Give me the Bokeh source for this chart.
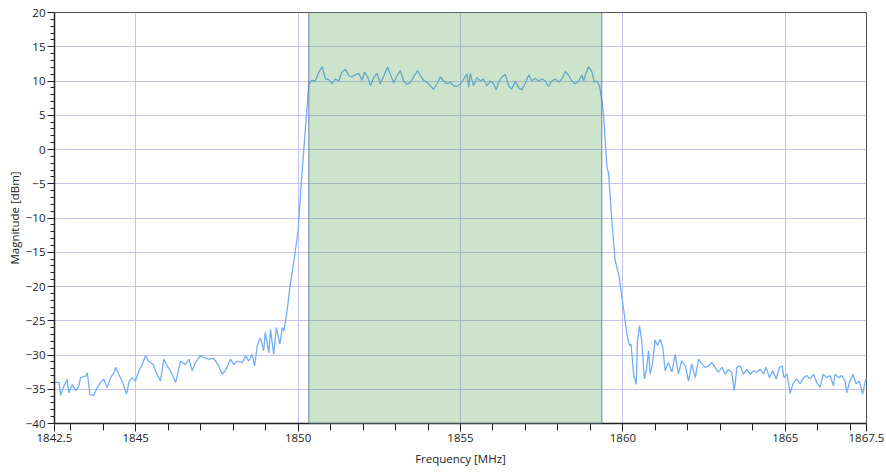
from bokeh.plotting import figure
from bokeh.models import FixedTicker, BoxAnnotation, Range1d
from bokeh.embed import file_html
from bokeh.resources import INLINE

# ---- data ----
freq_mhz = [
    1842.50, 1842.64, 1842.69, 1842.79, 1842.89, 1842.94, 1843.05, 1843.15, 1843.25, 1843.30,
    1843.46, 1843.51, 1843.59, 1843.71, 1843.81, 1843.92, 1844.02, 1844.12, 1844.23, 1844.33,
    1844.38, 1844.48, 1844.58, 1844.72, 1844.79, 1844.89, 1844.99, 1845.10, 1845.20, 1845.30,
    1845.40, 1845.54, 1845.61, 1845.76, 1845.87, 1845.97, 1846.07, 1846.23, 1846.38, 1846.53,
    1846.64, 1846.74, 1846.84, 1846.99, 1847.10, 1847.25, 1847.40, 1847.56, 1847.66, 1847.76,
    1847.92, 1848.02, 1848.12, 1848.28, 1848.38, 1848.48, 1848.58, 1848.66, 1848.74, 1848.84,
    1848.94, 1848.99, 1849.10, 1849.15, 1849.25, 1849.33, 1849.44, 1849.51, 1849.56, 1849.66,
    1849.76, 1849.87, 1850.00, 1850.09, 1850.21,
    1850.33, 1850.43, 1850.53, 1850.64, 1850.74, 1850.84, 1850.94, 1851.05, 1851.15, 1851.25,
    1851.35, 1851.46, 1851.56, 1851.66, 1851.76, 1851.87, 1851.97, 1852.04, 1852.14, 1852.23,
    1852.33, 1852.43, 1852.53, 1852.66, 1852.76, 1852.84, 1852.94, 1853.05, 1853.15, 1853.25,
    1853.35, 1853.46, 1853.58, 1853.68, 1853.76, 1853.87, 1853.97, 1854.07, 1854.17, 1854.28,
    1854.38, 1854.48, 1854.58, 1854.69, 1854.79, 1854.89, 1855.01, 1855.10, 1855.20, 1855.25,
    1855.30, 1855.40, 1855.51, 1855.61, 1855.71, 1855.81, 1855.92, 1856.02, 1856.10, 1856.17,
    1856.28, 1856.38, 1856.48, 1856.58, 1856.69, 1856.79, 1856.89, 1856.99, 1857.10, 1857.20,
    1857.30, 1857.40, 1857.51, 1857.61, 1857.71, 1857.81, 1857.92, 1858.02, 1858.12, 1858.23,
    1858.33, 1858.43, 1858.53, 1858.64, 1858.74, 1858.79, 1858.84, 1858.94, 1859.05, 1859.12,
    1859.20, 1859.28, 1859.35, 1859.40, 1859.51, 1859.56, 1859.66, 1859.76, 1859.87, 1859.97,
    1860.05, 1860.12, 1860.20, 1860.25, 1860.33, 1860.41, 1860.45, 1860.51, 1860.58, 1860.66,
    1860.72, 1860.79, 1860.84, 1860.91, 1860.99, 1861.07, 1861.15, 1861.23, 1861.30, 1861.40,
    1861.51, 1861.61, 1861.71, 1861.81, 1861.92, 1862.02, 1862.12, 1862.23, 1862.33, 1862.43,
    1862.53, 1862.64, 1862.74, 1862.84, 1862.94, 1863.05, 1863.15, 1863.25, 1863.35, 1863.43,
    1863.51, 1863.61, 1863.71, 1863.81, 1863.92, 1864.02, 1864.12, 1864.23, 1864.33, 1864.41,
    1864.51, 1864.61, 1864.72, 1864.82, 1864.90, 1864.96, 1865.05, 1865.15, 1865.25, 1865.35,
    1865.46, 1865.56, 1865.66, 1865.76, 1865.87, 1865.97, 1866.07, 1866.17, 1866.28, 1866.38,
    1866.48, 1866.53, 1866.64, 1866.74, 1866.84, 1866.89, 1866.99, 1867.08, 1867.18, 1867.28,
    1867.38, 1867.46, 1867.50,
]
level_dbm = [
    -34.0, -34.0, -35.9, -34.5, -33.6, -35.5, -34.3, -35.2, -34.5, -33.3,
    -33.1, -32.6, -35.8, -35.9, -34.8, -34.0, -33.5, -34.8, -33.3, -32.6,
    -31.8, -32.8, -33.8, -35.7, -34.0, -33.3, -33.8, -32.3, -31.4, -30.1,
    -30.9, -31.4, -32.3, -33.8, -30.6, -31.6, -32.3, -34.0, -30.9, -31.4,
    -30.6, -32.3, -31.1, -30.1, -30.4, -30.6, -30.5, -31.6, -32.8, -32.3,
    -30.6, -31.4, -30.9, -31.1, -30.1, -30.9, -29.9, -31.6, -28.7, -27.5,
    -29.4, -26.7, -29.7, -26.3, -29.9, -26.0, -28.4, -26.0, -26.5, -23.6,
    -19.7, -16.3, -11.9, -5.4, 2.1,
    9.6, 10.1, 10.0, 11.3, 12.1, 10.3, 10.2, 9.6, 10.3, 10.0,
    11.3, 11.7, 10.8, 10.6, 10.9, 11.1, 10.1, 11.3, 10.6, 9.3,
    10.5, 11.1, 9.6, 11.0, 12.0, 11.0, 9.7, 10.8, 11.5, 10.0,
    9.5, 9.8, 10.8, 11.5, 10.8, 10.1, 9.8, 9.3, 8.8, 9.6,
    10.6, 10.0, 9.6, 9.8, 9.3, 9.2, 9.6, 10.3, 11.0, 9.1,
    11.1, 9.3, 10.5, 10.0, 10.3, 9.3, 10.0, 9.6, 8.7, 9.8,
    10.6, 11.0, 9.3, 8.8, 10.0, 9.0, 8.7, 9.6, 10.9, 10.0,
    10.4, 10.0, 10.3, 10.0, 9.2, 10.0, 10.3, 9.8, 10.3, 11.4,
    10.8, 10.0, 9.6, 10.0, 10.9, 10.0, 10.8, 12.1, 11.3, 9.8,
    10.0, 9.3, 7.2, 5.3, -2.6, -3.5, -10.4, -16.2, -18.2, -21.6,
    -24.3, -26.9, -28.6, -28.4, -32.8, -34.3, -27.9, -25.7, -27.9, -33.5,
    -32.3, -29.4, -32.8, -31.3, -27.8, -28.6, -27.7, -28.9, -32.3, -31.1,
    -32.5, -29.9, -32.8, -30.8, -31.6, -33.8, -31.3, -33.3, -30.6, -31.3,
    -31.8, -31.6, -31.1, -31.8, -32.5, -31.8, -32.8, -32.1, -32.5, -35.2,
    -31.8, -31.6, -32.8, -32.1, -32.8, -32.3, -32.5, -32.1, -32.8, -31.8,
    -33.3, -32.3, -33.5, -31.8, -31.6, -33.3, -32.8, -35.6, -34.0, -33.5,
    -34.2, -33.3, -33.0, -33.5, -32.8, -34.0, -34.7, -32.8, -33.3, -33.0,
    -34.5, -32.8, -33.3, -33.0, -33.8, -35.5, -33.8, -32.8, -34.2, -33.8,
    -35.7, -33.8, -33.5,
]
band_start_mhz = 1850.33
band_end_mhz = 1859.35

x_ticks = [1842.5, 1845, 1850, 1855, 1860, 1865, 1867.5]
x_tick_labels = ["1842.5", "1845", "1850", "1855", "1860", "1865", "1867.5"]
x_minor_ticks = list(range(1843, 1868))
y_ticks = list(range(-40, 21, 5))
y_minor_ticks = list(range(-40, 21))

FONT = "Open Sans"
TXT = "#222222"

p = figure(width=886, height=473,
           x_range=Range1d(1842.5, 1867.5), y_range=Range1d(-40, 20),
           output_backend="svg", toolbar_location=None,
           min_border_left=54, min_border_right=20, min_border_top=12, min_border_bottom=50)
p.background_fill_color = "white"
p.border_fill_color = "white"
p.outline_line_color = "#555555"
p.outline_line_width = 1

xt = FixedTicker(ticks=x_ticks, minor_ticks=x_minor_ticks)
yt = FixedTicker(ticks=y_ticks, minor_ticks=y_minor_ticks)
p.xaxis.ticker = xt
p.yaxis.ticker = yt
p.xgrid.ticker = FixedTicker(ticks=x_ticks)
p.ygrid.ticker = FixedTicker(ticks=y_ticks)
p.xaxis.major_label_overrides = {t: l for t, l in zip(x_ticks, x_tick_labels)}

for g in (p.xgrid, p.ygrid):
    g.grid_line_color = "#c4c4ef"
    g.grid_line_width = 1

for ax in (p.xaxis, p.yaxis):
    ax.axis_line_color = "#222222"
    ax.axis_line_width = 1.5
    ax.major_tick_line_color = "#222222"
    ax.minor_tick_line_color = "#222222"
    ax.major_tick_in = 0
    ax.minor_tick_in = 0
    ax.major_label_text_font = FONT
    ax.major_label_text_font_size = "11.5px"
    ax.major_label_text_color = TXT
    ax.axis_label_text_font = FONT
    ax.axis_label_text_font_size = "11.5px"
    ax.axis_label_text_font_style = "normal"
    ax.axis_label_text_color = TXT

p.xaxis.major_tick_out = 8
p.xaxis.minor_tick_out = 7
p.yaxis.major_tick_out = 7
p.yaxis.minor_tick_out = 4
p.xaxis.major_label_standoff = 2
p.yaxis.major_label_standoff = 2
p.xaxis.axis_label = "Frequency [MHz]"
p.yaxis.axis_label = "Magnitude [dBm]"
p.xaxis.axis_label_standoff = 6
p.yaxis.axis_label_standoff = 1

p.line(freq_mhz, level_dbm, line_color="#72aef7", line_width=1.3)

band = BoxAnnotation(left=band_start_mhz, right=band_end_mhz,
                     fill_color=(55, 147, 51), fill_alpha=0.25,
                     line_color="#66789c", line_width=1, line_alpha=0.9)
p.add_layout(band)

open("out.html", "w").write(file_html(p, INLINE))
